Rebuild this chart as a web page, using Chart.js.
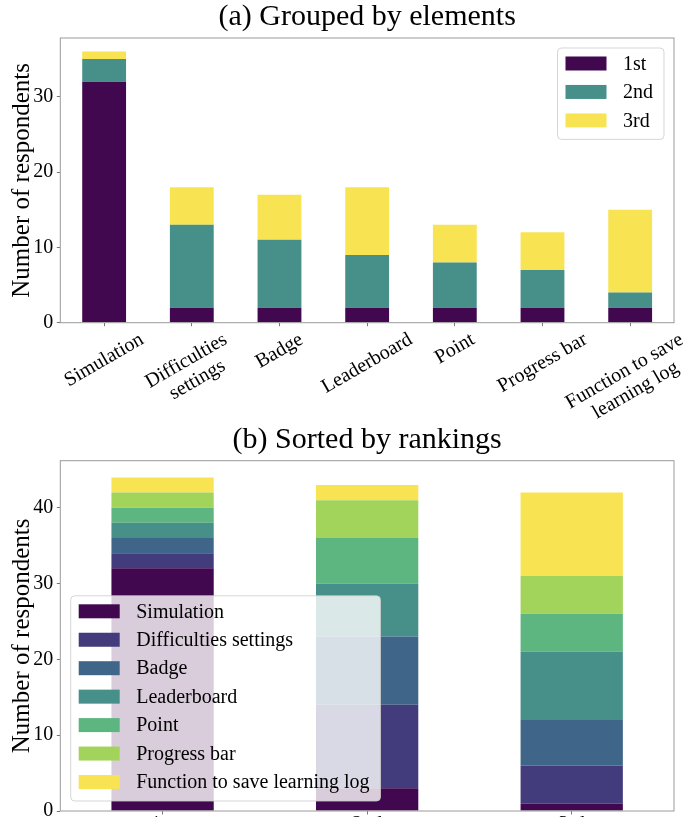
<!DOCTYPE html>
<html>
<head>
<meta charset="utf-8">
<script src="https://cdn.jsdelivr.net/npm/chart.js@4.4.0/dist/chart.umd.min.js"></script>
<style>
  html, body { margin: 0; padding: 0; background: #fff; overflow: hidden; width: 683px; height: 817px; }
  canvas { position: absolute; left: 0; }
</style>
</head>
<body>
<canvas id="chartA" width="683" height="440" style="top:0"></canvas>
<canvas id="chartB" width="683" height="450" style="top:415px"></canvas>
<script>
// Survey: how respondents ranked each gamification element (1st / 2nd / 3rd choice)
const elementLabels = ['Simulation', 'Difficulties settings', 'Badge', 'Leaderboard', 'Point', 'Progress bar', 'Function to save learning log'];
const elementTickLines = [['Simulation'], ['Difficulties', 'settings'], ['Badge'], ['Leaderboard'], ['Point'], ['Progress bar'], ['Function to save', 'learning log']];
const rankLabels = ['1st', '2nd', '3rd'];
const firstPlace  = [32, 2, 2, 2, 2, 2, 2];
const secondPlace = [3, 11, 9, 7, 6, 5, 2];
const thirdPlace  = [1, 5, 6, 9, 5, 5, 11];
const yTicksA = [0, 10, 20, 30];
const yTicksB = [0, 10, 20, 30, 40];

const rankColors = ['#41084f', '#478f89', '#f8e453'];
const elementColors = ['#41084f', '#433c7c', '#3f6689', '#478f89', '#5db57f', '#a2d45b', '#f8e453'];

const SERIF = "'Liberation Serif', 'Times New Roman', serif";
const rankSeries = [firstPlace, secondPlace, thirdPlace];

// stacked totals, with a 5% head-room margin above the tallest bar
const totalsByElement = elementLabels.map((_, i) => rankSeries.reduce((s, r) => s + r[i], 0));
const totalsByRank = rankSeries.map(r => r.reduce((s, v) => s + v, 0));

function roundRect(ctx, x, y, w, h, r) {
  ctx.beginPath();
  ctx.moveTo(x + r, y);
  ctx.lineTo(x + w - r, y);
  ctx.arcTo(x + w, y, x + w, y + r, r);
  ctx.lineTo(x + w, y + h - r);
  ctx.arcTo(x + w, y + h, x + w - r, y + h, r);
  ctx.lineTo(x + r, y + h);
  ctx.arcTo(x, y + h, x, y + h - r, r);
  ctx.lineTo(x, y + r);
  ctx.arcTo(x, y, x + r, y, r);
  ctx.closePath();
}

// Axes frame, panel title and an in-plot legend box
function panelDecor(title, legendCorner) {
  return {
    id: 'panelDecor',
    afterDraw(chart) {
      const { ctx, chartArea: a } = chart;
      ctx.save();
      // four-sided frame
      ctx.strokeStyle = '#9a9a9a';
      ctx.lineWidth = 1;
      ctx.strokeRect(a.left, a.top, a.right - a.left, a.bottom - a.top);
      // title
      ctx.fillStyle = '#000';
      ctx.font = '30px ' + SERIF;
      ctx.textAlign = 'center';
      ctx.textBaseline = 'alphabetic';
      ctx.fillText(title, (a.left + a.right) / 2, a.top - 13);

      // legend
      const sets = chart.data.datasets;
      ctx.font = '20px ' + SERIF;
      const maxText = Math.max(...sets.map(d => ctx.measureText(d.label).width));
      const rowGap = 28.45;
      const boxW = 65.5 + maxText + 11;
      const boxH = 15.5 + rowGap * (sets.length - 1) + 19;
      let bx, by;
      if (legendCorner === 'upper right') {
        bx = a.right - 10 - boxW; by = a.top + 10;
      } else {
        bx = a.left + 10.4; by = a.bottom - 10 - boxH;
      }
      roundRect(ctx, bx, by, boxW, boxH, 4);
      ctx.fillStyle = 'rgba(255,255,255,0.8)';
      ctx.fill();
      ctx.strokeStyle = 'rgba(204,204,204,0.8)';
      ctx.stroke();
      ctx.textAlign = 'left';
      ctx.textBaseline = 'middle';
      sets.forEach((d, k) => {
        const cy = by + 15.5 + k * rowGap;
        ctx.fillStyle = d.backgroundColor;
        ctx.fillRect(bx + 8, cy - 7, 41, 14);
        ctx.fillStyle = '#000';
        ctx.fillText(d.label, bx + 65.5, cy + 1);
      });
      ctx.restore();
    }
  };
}

// Category labels rotated by 30 degrees, centred under each tick
const rotatedTicks = {
  id: 'rotatedTicks',
  afterDraw(chart) {
    const { ctx, chartArea: a } = chart;
    const xs = chart.scales.x;
    const ang = Math.PI / 6;
    const lh = 22;
    ctx.save();
    ctx.font = '20px ' + SERIF;
    ctx.fillStyle = '#000';
    ctx.textAlign = 'center';
    ctx.textBaseline = 'middle';
    elementTickLines.forEach((lines, i) => {
      const w = Math.max(...lines.map(t => ctx.measureText(t).width));
      const h = lines.length * lh;
      const bh = w * Math.sin(ang) + h * Math.cos(ang);
      const cx = xs.getPixelForValue(i);
      const cy = a.bottom + 6 + bh / 2;
      ctx.save();
      ctx.translate(cx, cy);
      ctx.rotate(-ang);
      lines.forEach((t, k) => ctx.fillText(t, 0, (k - (lines.length - 1) / 2) * lh));
      ctx.restore();
    });
    ctx.restore();
  }
};

function yAxis(maxVal, tickValues) {
  return {
    stacked: true,
    min: 0,
    max: maxVal,
    afterBuildTicks: s => { s.ticks = tickValues.map(v => ({ value: v })); },
    grid: { drawOnChartArea: false, drawTicks: true, tickLength: 3.5, color: '#777' },
    border: { display: false },
    ticks: { font: { family: SERIF, size: 20 }, color: '#000', padding: 3.5 },
    title: { display: true, text: 'Number of respondents', color: '#000', font: { family: SERIF, size: 25 }, padding: { top: 7, bottom: 0 } },
    afterFit: s => { s.width = 60.3; }
  };
}

const common = {
  responsive: false,
  animation: false,
  devicePixelRatio: 1,
  events: [],
  plugins: { legend: { display: false }, tooltip: { enabled: false }, title: { display: false } }
};

// (a) one bar per element, stacked by rank
new Chart(document.getElementById('chartA'), {
  type: 'bar',
  data: {
    labels: elementLabels,
    datasets: rankLabels.map((r, k) => ({
      label: r, data: rankSeries[k], backgroundColor: rankColors[k],
      borderWidth: 0, categoryPercentage: 1, barPercentage: 0.5
    }))
  },
  options: Object.assign({}, common, {
    layout: { padding: { top: 38, right: 9, left: 0, bottom: 0 } },
    scales: {
      x: {
        stacked: true, offset: true,
        grid: { offset: false, drawOnChartArea: false, drawTicks: true, tickLength: 3.5, color: '#777' },
        border: { display: false },
        ticks: { display: false },
        afterFit: s => { s.height = 440 - 322.7; }
      },
      y: yAxis(Math.max(...totalsByElement) * 1.05, yTicksA)
    }
  }),
  plugins: [panelDecor('(a) Grouped by elements', 'upper right'), rotatedTicks]
});

// (b) one bar per rank, stacked by element
new Chart(document.getElementById('chartB'), {
  type: 'bar',
  data: {
    labels: rankLabels,
    datasets: elementLabels.map((name, j) => ({
      label: name, data: rankSeries.map(r => r[j]), backgroundColor: elementColors[j],
      borderWidth: 0, categoryPercentage: 1, barPercentage: 0.5
    }))
  },
  options: Object.assign({}, common, {
    layout: { padding: { top: 45.7, right: 9, left: 0, bottom: 0 } },
    scales: {
      x: {
        stacked: true, offset: true,
        grid: { offset: false, drawOnChartArea: false, drawTicks: true, tickLength: 3.5, color: '#777' },
        border: { display: false },
        ticks: { font: { family: SERIF, size: 20 }, color: '#000', padding: -1.5, maxRotation: 0 },
        afterFit: s => { s.height = 54; }
      },
      y: yAxis(Math.max(...totalsByRank) * 1.05, yTicksB)
    }
  }),
  plugins: [panelDecor('(b) Sorted by rankings', 'lower left')]
});
</script>
</body>
</html>
